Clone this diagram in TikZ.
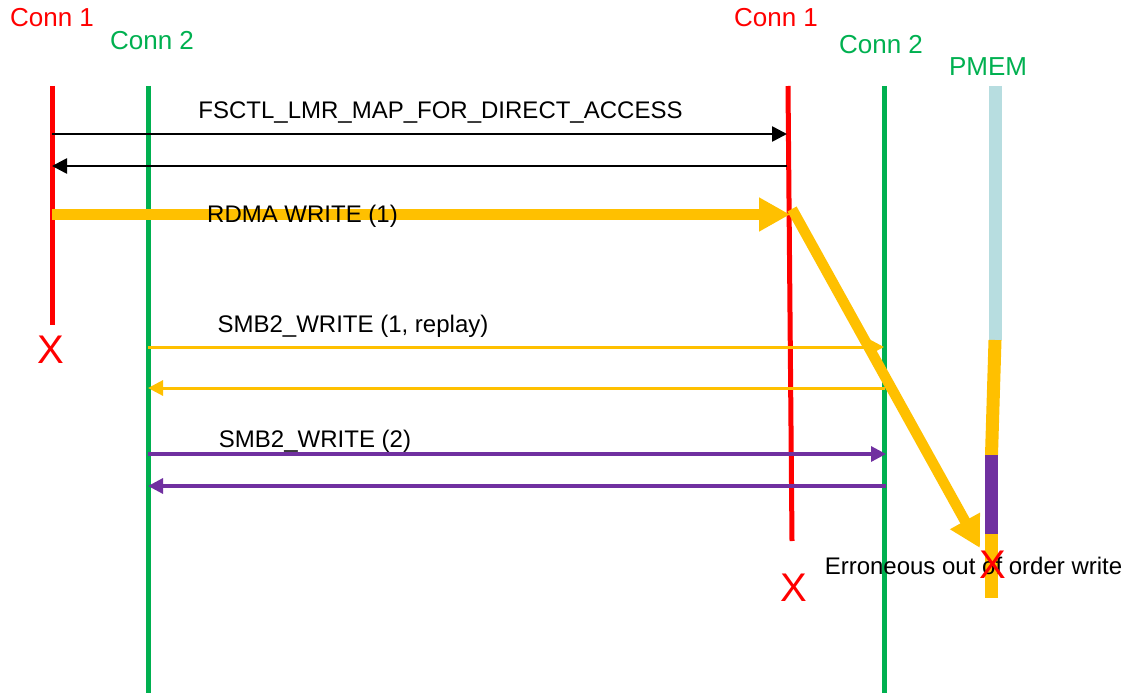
\documentclass[tikz,border=0pt]{standalone}
\usepackage{fontspec}
\setmainfont{Liberation Sans}
\usetikzlibrary{arrows.meta}
\definecolor{cred}{HTML}{FF0000}
\definecolor{cgreen}{HTML}{00B050}
\definecolor{corange}{HTML}{FFC000}
\definecolor{cpurple}{HTML}{7030A0}
\definecolor{cpmem}{HTML}{B7DDE0}
\begin{document}
\begin{tikzpicture}[x=1pt,y=-1pt,
  lifeline/.style={line width=5pt},
  hdr/.style={anchor=base,inner sep=0pt,font=\fontsize{26}{30}\selectfont},
  msglabel/.style={anchor=base,inner sep=0pt,font=\fontsize{24}{28}\selectfont},
  cross/.style={anchor=base,inner sep=0pt,text=cred,font=\fontsize{40}{44}\selectfont},
  msg/.style={line width=2.6pt,-{Triangle[length=15pt,width=15pt]}},
  bigmsg/.style={line width=10.5pt,corange,-{Triangle[length=31pt,width=32pt]}},
  pmembar/.style={line width=13pt},
]
\useasboundingbox (0,0) rectangle (1126,695);

% headers
\node[hdr,text=cred]   (h1a) at (52,27)  {Conn 1};
\node[hdr,text=cgreen] (h2a) at (152,50) {Conn 2};
\node[hdr,text=cred]   (h1b) at (776,27) {Conn 1};
\node[hdr,text=cgreen] (h2b) at (881,54) {Conn 2};
\node[hdr,text=cgreen] (hpm) at (988,76) {PMEM};

% lifeline end points
\coordinate (c1at) at (52,86);   \coordinate (c1ab) at (52,325);
\coordinate (c2at) at (148,86);  \coordinate (c2ab) at (148,693);
\coordinate (c1bt) at (788,86);  \coordinate (c1bb) at (792,541);
\coordinate (c2bt) at (884.5,86);\coordinate (c2bb) at (884.5,693);

% PMEM bar segments
\coordinate (pm0) at (995,86);
\coordinate (pm1) at (995,340);
\coordinate (pm2) at (991.5,455);
\coordinate (pm3) at (991.5,534);
\coordinate (pm4) at (991.5,598);

\draw[lifeline,cred]   (c1at) -- (c1ab);
\draw[lifeline,cgreen] (c2at) -- (c2ab);
\draw[lifeline,cred]   (c1bt) -- (c1bb);
\draw[lifeline,cgreen] (c2bt) -- (c2bb);

\draw[pmembar,cpmem]   (pm0) -- (pm1);
\draw[pmembar,corange] (pm1) -- (pm2);
\draw[pmembar,cpurple] (pm2) -- (pm3);
\draw[pmembar,corange] (pm3) -- (pm4);

% FSCTL request and response
\coordinate (m1s) at (52,134);  \coordinate (m1e) at (787,134);
\coordinate (m2s) at (787,166); \coordinate (m2e) at (52,166);
\draw[msg,black] (m1s) -- (m1e);
\draw[msg,black] (m2s) -- (m2e);
\node[msglabel] (l1) at (440.5,119) {FSCTL\_LMR\_MAP\_FOR\_DIRECT\_ACCESS};

% RDMA write and the late write to PMEM
\coordinate (r1s) at (52,214.5); \coordinate (r1e) at (790,214.5);
\coordinate (r2s) at (792,209);  \coordinate (r2e) at (980,548);
\draw[bigmsg] (r1s) -- (r1e);
\node[msglabel] (l2) at (302.5,222) {RDMA WRITE (1)};

% SMB2 write (1, replay)
\coordinate (s1s) at (148,347);   \coordinate (s1e) at (884,347);
\coordinate (s2s) at (884.5,388); \coordinate (s2e) at (148,388);
\draw[msg,corange,line width=3pt] (s1s) -- (s1e);
\draw[msg,corange,line width=3pt] (s2s) -- (s2e);
\node[msglabel] (l3) at (353,332) {SMB2\_WRITE (1, replay)};

% SMB2 write (2)
\coordinate (p1s) at (148,454);   \coordinate (p1e) at (886,454);
\coordinate (p2s) at (886,486);   \coordinate (p2e) at (148,486);
\draw[msg,cpurple,line width=3.2pt] (p1s) -- (p1e);
\draw[msg,cpurple,line width=3.2pt] (p2s) -- (p2e);
\node[msglabel] (l4) at (315,447) {SMB2\_WRITE (2)};

% the delayed RDMA data lands in PMEM, drawn over the thin arrows
\draw[bigmsg] (r2s) -- (r2e);

% failures
\node[cross] (x1) at (51,363) {X};
\node[cross] (x2) at (794,601) {X};
\node[msglabel] (err) at (973.5,574) {Erroneous out of order write};
\node[cross] (x3) at (993,578) {X};
\end{tikzpicture}
\end{document}
